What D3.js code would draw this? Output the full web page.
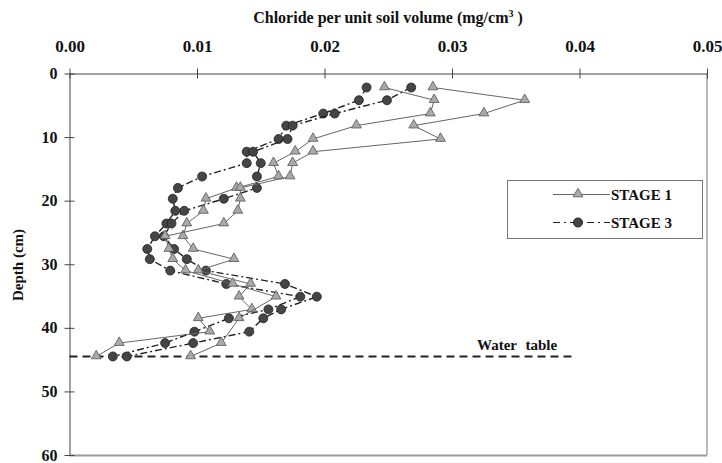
<!DOCTYPE html>
<head>
<meta charset="utf-8">
<script src="https://d3js.org/d3.v7.min.js"></script>
<style>
  body { margin: 0; background: #fff; }
</style>
</head>
<body>
<svg id="chart" width="722" height="463" font-family="Liberation Serif" font-weight="bold"></svg>
<script>
// depth levels (cm) shared by all profiles
var depths = [2.2, 4.2, 6.3, 8.2, 10.3, 12.3, 14.1, 16.2, 18.0, 19.7, 21.6, 23.6,
              25.6, 27.6, 29.2, 31.0, 33.1, 35.1, 37.1, 38.5, 40.6, 42.4, 44.5];
// stage 1, two profiles (mg/cm3), null = no reading
var stage1a = [0.0247, 0.0286, 0.0283, 0.0225, 0.0191, 0.0177, 0.0160, 0.0164, 0.0131, 0.0107, 0.0105, 0.0092,
               0.0089, 0.0097, 0.0129, 0.0101, 0.0142, 0.0133, 0.0143, 0.0101, 0.0110, 0.0039, 0.0021];
var stage1b = [0.0285, 0.0357, 0.0325, 0.0270, 0.0291, 0.0191, 0.0175, 0.0173, 0.0134, 0.0134, 0.0132, 0.0121,
               0.0075, 0.0078, 0.0081, 0.0091, 0.0128, 0.0162, null, 0.0133, null, 0.0119, 0.0095];
// stage 3, two profiles
var stage3a = [0.0233, 0.0227, 0.0199, 0.0170, 0.0164, 0.0139, 0.0139, 0.0104, 0.0085, 0.0081, 0.0083, 0.0076,
               0.0067, 0.0061, 0.0063, 0.0079, 0.0123, 0.0181, 0.0156, 0.0125, 0.0098, 0.0075, 0.0034];
var stage3b = [0.0268, 0.0249, 0.0208, 0.0175, 0.0171, 0.0144, 0.0150, 0.0147, 0.0147, 0.0121, 0.0090, 0.0080,
               0.0074, 0.0082, 0.0092, 0.0107, 0.0169, 0.0194, 0.0166, 0.0152, 0.0141, 0.0097, 0.0045];
var xTicks = [0, 0.01, 0.02, 0.03, 0.04, 0.05];
var yTicks = [0, 10, 20, 30, 40, 50, 60];
var waterTable = 44.5;
var legendNames = ["STAGE 1", "STAGE 3"];

var svg = d3.select("#chart");
var x = d3.scaleLinear().domain([0, 0.05]).range([69.5, 707]);
var y = d3.scaleLinear().domain([0, 60]).range([73.5, 455]);

// frame: right and bottom in grey
svg.append("line").attr("x1", 707).attr("x2", 707).attr("y1", 73.5).attr("y2", 455)
  .attr("stroke", "#777").attr("stroke-width", 1);
svg.append("line").attr("x1", 69.5).attr("x2", 707).attr("y1", 455.5).attr("y2", 455.5)
  .attr("stroke", "#999").attr("stroke-width", 2);

// top axis
var gx = svg.append("g").attr("transform", "translate(0,73.5)")
  .call(d3.axisTop(x).tickValues(xTicks).tickFormat(d3.format(".2f")).tickSize(5).tickSizeOuter(0));
gx.attr("font-family", "Liberation Serif").attr("font-size", 17);
gx.select(".domain").attr("stroke", "#444");
gx.selectAll(".tick line").attr("y1", 5).attr("y2", -5).attr("stroke", "#444");
gx.selectAll(".tick text").attr("y", -22).attr("fill", "#111");

// left axis
var gy = svg.append("g").attr("transform", "translate(69.5,0)")
  .call(d3.axisLeft(y).tickValues(yTicks).tickSize(5).tickSizeOuter(0));
gy.attr("font-family", "Liberation Serif").attr("font-size", 16);
gy.select(".domain").attr("stroke", "#444");
gy.selectAll(".tick line").attr("x1", 5).attr("x2", -5).attr("stroke", "#444");
gy.selectAll(".tick text").attr("x", -12).attr("fill", "#111");

// titles
var title = svg.append("text").attr("x", 388).attr("y", 23).attr("text-anchor", "middle")
  .attr("font-size", 16).attr("fill", "#111").text("Chloride per unit soil volume (mg/cm");
title.append("tspan").attr("font-size", 10).attr("dy", -6).text("3");
title.append("tspan").attr("dy", 6).text(" )");

svg.append("text").attr("transform", "translate(23,265) rotate(-90)").attr("text-anchor", "middle")
  .attr("font-size", 15).attr("fill", "#111").text("Depth (cm)");

// water table
svg.append("line").attr("x1", x(0)).attr("x2", 576).attr("y1", y(waterTable)).attr("y2", y(waterTable))
  .attr("stroke", "#222").attr("stroke-width", 2).attr("stroke-dasharray", "8,5");
svg.append("text").attr("x", 477).attr("y", 350).attr("font-size", 15).attr("word-spacing", 5)
  .attr("fill", "#111").text("Water table");

function rows(vals) {
  return depths.map(function(d, i) { return {d: d, v: vals[i]}; }).filter(function(p) { return p.v != null; });
}
var line = d3.line().x(function(p) { return x(p.v); }).y(function(p) { return y(p.d); });
var tri = d3.symbol().type(d3.symbolTriangle).size(42);

function drawStage1(vals) {
  var pts = rows(vals);
  svg.append("path").datum(pts).attr("d", line).attr("fill", "none")
    .attr("stroke", "#666").attr("stroke-width", 1);
  svg.append("g").selectAll("path").data(pts).enter().append("path")
    .attr("d", tri).attr("transform", function(p) { return "translate(" + x(p.v) + "," + (y(p.d) - 0.5) + ")"; })
    .attr("fill", "#a9a9a9").attr("stroke", "#555").attr("stroke-width", 0.8);
}
function drawStage3(vals) {
  var pts = rows(vals);
  svg.append("path").datum(pts).attr("d", line).attr("fill", "none")
    .attr("stroke", "#222").attr("stroke-width", 1.4).attr("stroke-dasharray", "7,3,2,3");
  svg.append("g").selectAll("circle").data(pts).enter().append("circle")
    .attr("cx", function(p) { return x(p.v); }).attr("cy", function(p) { return y(p.d); })
    .attr("r", 4.5).attr("fill", "#454545").attr("stroke", "#222").attr("stroke-width", 0.8);
}
drawStage3(stage3a);
drawStage3(stage3b);
drawStage1(stage1a);
drawStage1(stage1b);

// legend
var lg = svg.append("g");
lg.append("rect").attr("x", 507.5).attr("y", 180.5).attr("width", 195).attr("height", 58)
  .attr("fill", "#fff").attr("stroke", "#777").attr("stroke-width", 1);
legendNames.forEach(function(name, i) {
  var ly = 194.5 + i * 28;
  if (i == 0) {
    lg.append("line").attr("x1", 553).attr("x2", 610).attr("y1", ly).attr("y2", ly)
      .attr("stroke", "#666").attr("stroke-width", 1);
    lg.append("path").attr("d", tri).attr("transform", "translate(578," + (ly - 0.5) + ")")
      .attr("fill", "#a9a9a9").attr("stroke", "#555").attr("stroke-width", 0.8);
  } else {
    lg.append("line").attr("x1", 553).attr("x2", 610).attr("y1", ly).attr("y2", ly)
      .attr("stroke", "#222").attr("stroke-width", 1.2).attr("stroke-dasharray", "7,4,2,4");
    lg.append("circle").attr("cx", 578).attr("cy", ly).attr("r", 4.5)
      .attr("fill", "#454545").attr("stroke", "#222");
  }
  lg.append("text").attr("x", 611).attr("y", ly + 5).attr("font-size", 15).attr("fill", "#111").text(name);
});
</script>
</body>
</html>
